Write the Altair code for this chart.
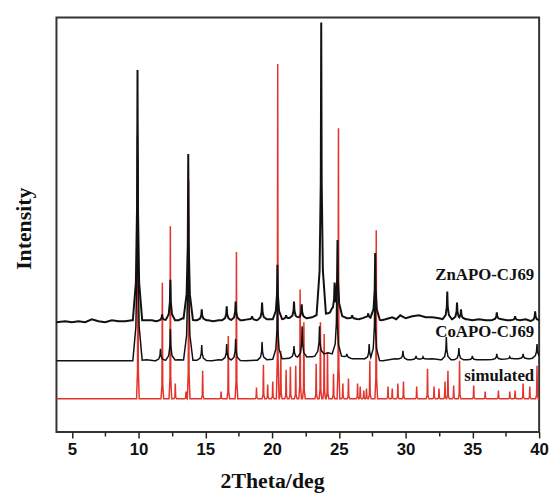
import altair as alt
import numpy as np
import pandas as pd

X_MIN, X_MAX = 3.85, 40.0

# ---- simulated pattern (red) ----
sim_base_x = [3.85, 40.0]
sim_base_y = [33.5, 33.5]
sim_pos = [9.95, 11.78, 12.38, 12.75, 13.55, 13.75, 14.8, 16.18, 16.72, 17.33,
           18.83, 19.35, 19.67, 20.05, 20.42, 20.65, 21.05, 21.37, 21.77, 22.1,
           22.38, 23.3, 23.62, 23.9, 24.15, 24.6, 24.97, 25.3, 25.72, 26.4,
           26.6, 26.87, 27.07, 27.32, 27.8, 28.68, 29.0, 29.42, 29.84, 30.83,
           31.64, 32.13, 32.5, 32.95, 33.17, 33.6, 34.04, 35.1, 35.96, 36.95,
           37.8, 38.2, 38.8, 39.3, 39.84]
sim_top = [277, 151, 208, 49, 41, 254, 62, 41, 97, 182,
           45, 68, 48, 51, 372, 82, 63, 66, 67, 144,
           111, 69, 111, 99, 81, 59, 307, 49, 54, 49,
           46, 42, 44, 72, 204, 46, 44, 49, 51, 46,
           64, 46, 44, 51, 62, 47, 72, 47, 41, 42,
           41, 42, 49, 46, 67]

# ---- CoAPO-CJ69 (black, middle) ----
co_base_x = [3.85, 9.6, 10.6, 11.2, 13.0, 15.5, 16.0, 18.0, 20.8, 22.8, 23.0,
             24.2, 26.0, 26.8, 28.3, 29.2, 30.2, 32.0, 32.6, 34.5, 36.0, 38.0,
             39.3, 40.0]
co_base_y = [72, 72, 73, 72, 73, 72, 73, 72, 74, 76, 76,
             80, 74, 74, 72, 74, 73, 74, 73, 73, 73, 74,
             74, 76]
co_pos = [9.92, 11.64, 12.38, 13.72, 14.73, 16.6, 17.27, 19.25, 20.4, 21.64,
          22.25, 23.55, 24.85, 25.6, 27.27, 27.7, 29.8, 30.78, 31.3, 33.05,
          33.99, 35.0, 36.83, 37.8, 38.8, 39.84]
co_top = [300, 84, 104, 240, 88, 89, 94, 91, 140, 87,
          107, 107, 150, 79, 89, 150, 82, 77, 76, 96,
          85, 77, 79, 76, 79, 89]

# ---- ZnAPO-CJ69 (black, top) ----
zn_base_x = [3.85, 4.5, 5.0, 5.5, 6.0, 6.5, 7.0, 7.5, 8.0, 8.5, 9.0, 9.5,
             10.5, 11.0, 11.3, 12.0, 13.0, 13.3, 14.2, 15.2, 15.6, 16.0,
             17.8, 18.2, 18.8, 19.7, 20.8, 21.3, 22.6, 23.0, 23.3, 24.2,
             24.5, 25.3, 25.6, 26.5, 27.0, 28.2, 28.5, 29.0, 29.3, 29.6,
             30.0, 30.5, 31.0, 31.5, 32.0, 32.5, 32.8, 34.6, 35.0, 35.5,
             36.0, 36.4, 37.2, 37.6, 38.5, 39.0, 39.4, 40.0]
zn_base_y = [111, 112, 111, 112, 111, 114, 112, 111, 113, 112, 112, 113,
             113, 113, 112, 113, 113, 115, 113, 113, 112, 113,
             113, 114, 113, 114, 114, 115, 115, 116, 118, 120,
             122, 117, 115, 114, 116, 113, 114, 116, 114, 118,
             115, 117, 118, 116, 116, 115, 114, 114, 113, 114,
             113, 113, 114, 113, 113, 114, 112, 113]
zn_pos = [9.92, 11.76, 12.38, 13.72, 14.73, 16.6, 17.27, 18.5, 19.25, 20.4,
          21.05, 21.64, 22.22, 23.68, 24.68, 24.9, 26.0, 27.2, 27.72, 33.12,
          33.85, 34.15, 36.83, 38.2, 39.7]
zn_top = [366, 119, 154, 281, 124, 127, 132, 117, 131, 169,
          118, 132, 129, 414, 151, 194, 118, 120, 181, 142,
          131, 124, 121, 117, 122]

labels = ["ZnAPO-CJ69", "CoAPO-CJ69", "simulated"]

# peak outline (fraction of half-width -> fraction of height)
SIM_SHAPE = ([0.0, 0.3, 1.0], [1.0, 0.12, 0.0])
EXP_SHAPE = ([0.0, 0.1, 0.35, 1.0], [1.0, 0.45, 0.15, 0.0])


def build(base_x, base_y, pos, top, hw, shape):
    """Join the read baseline points and peak apexes into one polyline."""
    ds, fs = shape
    xs = set(base_x) | set(pos)
    for p in pos:
        for k in ds[1:]:
            xs.add(round(p - k * hw, 4))
            xs.add(round(p + k * hw, 4))
    xs = sorted(x for x in xs if X_MIN <= x <= X_MAX)
    ys = []
    for x in xs:
        b = float(np.interp(x, base_x, base_y))
        y = b
        for p, t in zip(pos, top):
            d = abs(x - p) / hw
            if d < 1:
                f = float(np.interp(d, ds, fs))
                y = max(y, b + (t - b) * f)
        ys.append(y)
    return pd.DataFrame({"x": xs, "y": ys})


sim_df = build(sim_base_x, sim_base_y, sim_pos, sim_top, 0.1, SIM_SHAPE)
co_df = build(co_base_x, co_base_y, co_pos, co_top, 0.35, EXP_SHAPE)
zn_df = build(zn_base_x, zn_base_y, zn_pos, zn_top, 0.35, EXP_SHAPE)

xticks = [5 + 2.5 * i for i in range(15)]

xscale = alt.Scale(domain=[X_MIN, X_MAX], nice=False, zero=False)
yscale = alt.Scale(domain=[0, 419], nice=False, zero=False)

xaxis = alt.Axis(
    values=xticks,
    labelExpr="datum.value % 5 === 0 ? datum.label : ''",
    tickSize={"condition": {"test": "datum.value % 5 === 0", "value": 6}, "value": 4},
    tickColor="#222222",
    tickWidth=1.5,
    grid=False,
    domain=False,
    labelFont="Liberation Sans",
    labelFontWeight="bold",
    labelFontSize=17,
    labelColor="#111111",
    labelPadding=4,
    labelFlush=False,
    title="2Theta/deg",
    titleFont="Liberation Serif",
    titleFontWeight="bold",
    titleFontSize=22,
    titleColor="#111111",
    titleX=218,
    titleY=56,
    titleAlign="center",
    titleBaseline="alphabetic",
)
yaxis = alt.Axis(
    labels=False,
    ticks=False,
    domain=False,
    grid=False,
    title="Intensity",
    titleFont="Liberation Serif",
    titleFontWeight="bold",
    titleFontSize=22,
    titleColor="#111111",
    titleX=-33,
    titleY=213,
    titleAngle=270,
    titleAlign="center",
    titleBaseline="middle",
)


def line(df, color, width):
    return alt.Chart(df).mark_line(color=color, strokeWidth=width, interpolate="linear").encode(
        x=alt.X("x:Q", scale=xscale, axis=xaxis),
        y=alt.Y("y:Q", scale=yscale, axis=yaxis),
        order="x:Q",
    )


def label(text, ypix):
    return alt.Chart(pd.DataFrame({"t": [text]})).mark_text(
        align="right", baseline="alphabetic", font="Liberation Serif",
        fontWeight="bold", fontSize=17, color="#111111",
    ).encode(x=alt.value(483), y=alt.value(ypix), text="t:N")


chart = alt.layer(
    line(sim_df, "#e3342c", 1.5),
    line(co_df, "#111111", 1.5),
    line(zn_df, "#111111", 2.0),
    label(labels[0], 265),
    label(labels[1], 323),
    label(labels[2], 367),
).properties(
    width=488,
    height=419,
    autosize=alt.AutoSizeParams(type="none"),
    padding={"left": 49, "top": 7, "right": 12, "bottom": 60},
    background="white",
).configure_view(stroke="#333333", strokeWidth=2)

chart.save("out.html", embed_options={"renderer": "svg", "actions": False})
